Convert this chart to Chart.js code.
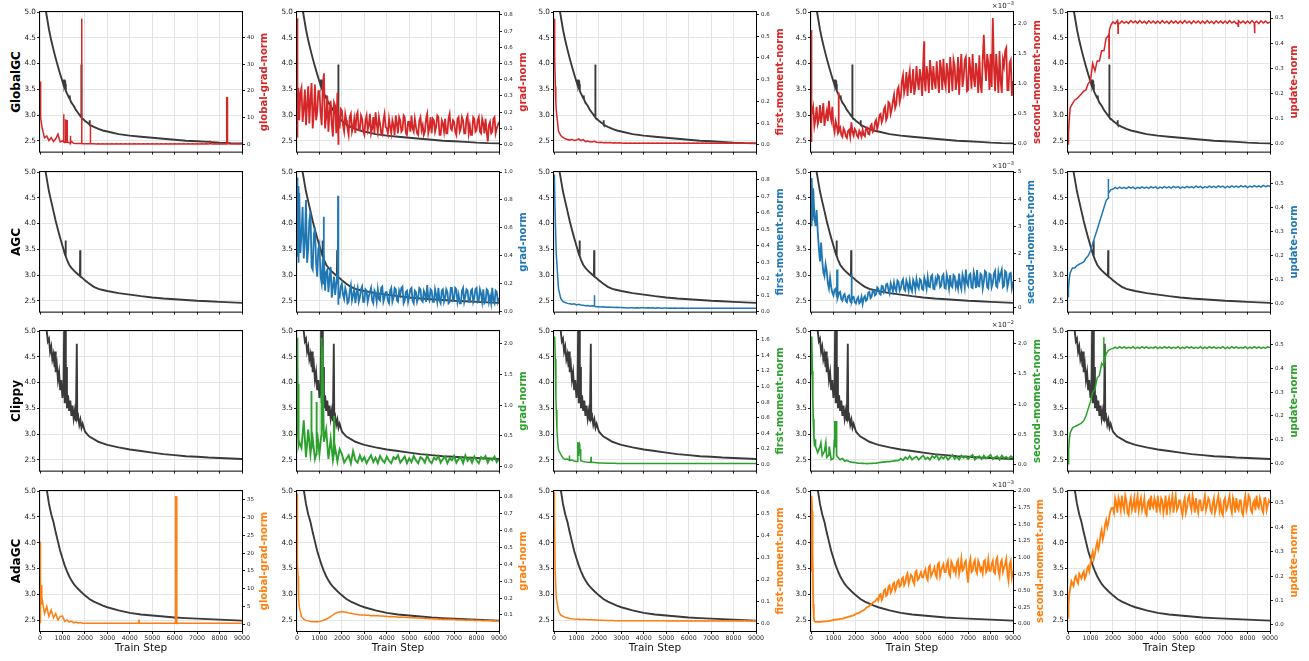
<!DOCTYPE html>
<html>
<head>
<meta charset="utf-8">
<script src="https://cdn.jsdelivr.net/npm/chart.js@4.4.0/dist/chart.umd.min.js"></script>
<style>
  body { margin: 0; background: #fff; width: 1309px; height: 661px; position: relative; overflow: hidden;
         font-family: "DejaVu Sans", sans-serif; }
  canvas { position: absolute; }
  .rot { position: absolute; width: 240px; height: 16px; line-height: 16px; text-align: center;
         white-space: nowrap; transform: rotate(-90deg); font-weight: bold; }
  .expo { position: absolute; font-size: 7px; color: #222; text-align: right; width: 40px; }
  .expo sup { font-size: 5px; }
</style>
</head>
<body>
<script>
// ---- data ----
const STEPS = [0,100,200,300,400,500,600,700,800,900,
  1000,1100,1200,1300,1400,1500,1600,1700,1800,1900,
  2000,2100,2200,2300,2400,2500,2600,2700,2800,2900,
  3000,3100,3200,3300,3400,3500,3600,3700,3800,3900,
  4000,4100,4200,4300,4400,4500,4600,4700,4800,4900,
  5000,5100,5200,5300,5400,5500,5600,5700,5800,5900,
  6000,6100,6200,6300,6400,6500,6600,6700,6800,6900,
  7000,7100,7200,7300,7400,7500,7600,7700,7800,7900,
  8000,8100,8200,8300,8400,8500,8600,8700,8800,8900,
  9000];
// half-way steps (50, 150, ... 8950) used by the noisiest curves
const MID_OFFSET = 50;
const X_TICKS = [0,1000,2000,3000,4000,5000,6000,7000,8000,9000];
const ROWS = ['GlobalGC', 'AGC', 'Clippy', 'AdaGC'];
const METRICS = ['global-grad-norm', 'grad-norm', 'first-moment-norm', 'second-moment-norm', 'update-norm'];

// training loss, one curve per method ([step, loss])
const LOSS_GLOBALGC = [[0,7.8],[50,6.6],[100,6.0],[150,5.6],[200,5.3],[270,5.0],[400,4.66],[500,4.45],[600,4.27],[700,4.1],[800,3.94],[900,3.79],[1000,3.65],[1050,3.58],[1070,3.69],[1090,3.55],[1130,3.6],[1150,3.47],[1200,3.42],[1300,3.33],[1320,3.38],[1340,3.3],[1400,3.24],[1500,3.18],[1600,3.1],[1700,3.04],[1800,2.98],[1830,2.96],[1840,3.98],[1850,2.95],[1900,2.93],[2000,2.89],[2200,2.82],[2210,2.9],[2220,2.81],[2400,2.77],[2600,2.73],[2800,2.7],[3000,2.68],[3500,2.63],[4000,2.6],[4500,2.58],[5000,2.56],[5500,2.54],[6000,2.52],[6500,2.5],[7000,2.49],[7500,2.48],[8000,2.465],[8500,2.455],[9000,2.45]];
const LOSS_AGC = [[0,7.8],[100,6.0],[150,5.6],[200,5.25],[250,5.0],[400,4.62],[500,4.43],[600,4.24],[700,4.05],[800,3.88],[900,3.72],[1000,3.57],[1100,3.42],[1130,3.38],[1140,3.67],[1150,3.37],[1200,3.3],[1300,3.2],[1400,3.14],[1500,3.09],[1600,3.05],[1700,3.01],[1780,2.98],[1790,3.48],[1800,2.97],[1900,2.94],[2000,2.9],[2200,2.83],[2400,2.77],[2600,2.73],[2800,2.71],[3000,2.69],[3500,2.65],[4000,2.62],[4500,2.59],[5000,2.565],[5500,2.545],[6000,2.53],[6500,2.515],[7000,2.5],[7500,2.49],[8000,2.48],[8500,2.47],[9000,2.46]];
const LOSS_CLIPPY = [[0,7.8],[100,6.1],[200,5.4],[300,5.0],[350,4.8],[400,4.85],[450,4.6],[500,4.7],[550,4.45],[600,4.55],[650,4.3],[680,4.6],[700,4.2],[750,4.35],[800,4.05],[850,4.2],[900,3.85],[950,4.05],[1000,3.7],[1050,3.95],[1080,5.2],[1100,3.6],[1130,5.3],[1150,3.6],[1180,4.3],[1200,3.5],[1250,3.75],[1300,3.45],[1350,3.65],[1400,3.35],[1450,3.55],[1500,3.3],[1550,3.45],[1600,3.25],[1640,4.75],[1660,3.3],[1700,3.35],[1750,3.18],[1800,3.28],[1850,3.12],[1900,3.2],[2000,3.05],[2100,3.0],[2200,2.95],[2400,2.9],[2600,2.85],[2800,2.82],[3000,2.79],[3500,2.74],[4000,2.7],[4500,2.67],[5000,2.64],[5500,2.61],[6000,2.59],[6500,2.57],[7000,2.56],[7500,2.545],[8000,2.535],[8500,2.525],[9000,2.515]];
const LOSS_ADAGC = [[0,7.8],[100,6.2],[200,5.45],[310,5.0],[400,4.75],[500,4.55],[600,4.4],[700,4.2],[800,4.02],[900,3.84],[1000,3.7],[1100,3.56],[1200,3.45],[1300,3.35],[1400,3.27],[1500,3.2],[1600,3.15],[1800,3.06],[2000,2.98],[2200,2.91],[2400,2.86],[2600,2.82],[2800,2.78],[3000,2.75],[3500,2.69],[4000,2.64],[4500,2.61],[5000,2.59],[5500,2.57],[6000,2.55],[6500,2.54],[7000,2.53],[7500,2.52],[8000,2.51],[8500,2.5],[9000,2.49]];

// GlobalGC (values on STEPS, plus extra [step, value] points for spikes)
const GGN_GLOBALGC = [23.5,6,2.5,3.2,1.5,2.6,1.2,2.2,3.9,1.0,
  1.4,0.8,1.6,0.7,1.2,0.5,0.45,0.4,0.45,0.35,
  0.35,0.3,0.32,0.3,0.3,0.28,0.3,0.28,0.3,0.28,
  0.3,0.28,0.3,0.28,0.3,0.28,0.3,0.28,0.3,0.28,
  0.3,0.28,0.3,0.28,0.3,0.28,0.3,0.28,0.3,0.28,
  0.3,0.28,0.3,0.28,0.3,0.28,0.3,0.28,0.3,0.28,
  0.3,0.28,0.3,0.28,0.3,0.28,0.3,0.28,0.3,0.28,
  0.3,0.28,0.3,0.28,0.3,0.28,0.3,0.28,0.3,0.28,
  0.3,0.28,0.3,0.28,0.3,0.28,0.3,0.28,0.3,0.28,
  0.3];
const GGN_GLOBALGC_X = [[15,16],[40,10],[70,7.5],[1045,1],[1055,11.3],[1065,1.2],[1125,0.9],[1135,9.5],[1145,1],[1195,0.9],[1205,9.2],[1215,1],[1345,0.7],[1355,3.3],[1365,0.6],[1850,0.4],[1857,47],[1864,0.4],[2238,0.3],[2245,7],[2252,0.3],[7550,0.3],[7560,1.5],[7570,0.3],[8315,0.3],[8320,17.5],[8350,17.5],[8355,0.3]];
const GN_GLOBALGC = [0.05,0.15,0.35,0.22,0.12,0.36,0.28,0.1,0.37,0.2,
  0.33,0.12,0.44,0.17,0.08,0.27,0.05,0.24,0.32,0.1,
  0.21,0.08,0.15,0.06,0.19,0.11,0.07,0.2,0.09,0.16,
  0.06,0.18,0.12,0.07,0.17,0.2,0.08,0.13,0.06,0.19,
  0.1,0.16,0.07,0.12,0.18,0.07,0.15,0.09,0.17,0.06,
  0.14,0.18,0.08,0.11,0.06,0.17,0.12,0.08,0.19,0.1,
  0.07,0.15,0.11,0.17,0.06,0.13,0.16,0.07,0.19,0.09,
  0.14,0.06,0.17,0.1,0.15,0.07,0.18,0.12,0.06,0.16,
  0.09,0.17,0.07,0.13,0.16,0.02,0.14,0.08,0.17,0.1,
  0.14];
const GN_GLOBALGC_MID = [0.3,0.32,0.14,0.34,0.25,0.13,0.38,0.2,0.15,0.33,
  0.2,0.36,0.1,0.3,0.2,0.12,0.26,0.07,0.18,0.22,
  0.12,0.19,0.1,0.17,0.08,0.16,0.18,0.09,0.18,0.08,
  0.15,0.09,0.19,0.1,0.07,0.13,0.17,0.07,0.15,0.11,
  0.07,0.11,0.15,0.06,0.13,0.17,0.08,0.18,0.07,0.14,
  0.08,0.1,0.16,0.07,0.15,0.09,0.06,0.16,0.07,0.17,
  0.16,0.08,0.18,0.06,0.15,0.08,0.07,0.16,0.1,0.15,
  0.08,0.16,0.08,0.17,0.07,0.16,0.07,0.06,0.17,0.08,
  0.15,0.08,0.16,0.07,0.08,0.12,0.07,0.16,0.07,0.12];
const GN_GLOBALGC_X = [[10,0.78],[30,0.28],[60,0.35],[1845,0.005]];
const FM_GLOBALGC = [0.58,0.16,0.063,0.043,0.034,0.028,0.025,0.022,0.026,0.02,
  0.022,0.028,0.02,0.024,0.015,0.018,0.014,0.013,0.016,0.012,
  0.011,0.012,0.01,0.011,0.01,0.011,0.009,0.01,0.009,0.01,
  0.009,0.008,0.009,0.008,0.009,0.008,0.009,0.008,0.009,0.008,
  0.009,0.008,0.009,0.008,0.009,0.008,0.009,0.008,0.009,0.008,
  0.009,0.008,0.009,0.008,0.009,0.008,0.009,0.008,0.009,0.008,
  0.009,0.008,0.009,0.008,0.009,0.008,0.009,0.008,0.009,0.008,
  0.009,0.008,0.009,0.008,0.009,0.008,0.009,0.008,0.009,0.008,
  0.009,0.008,0.009,0.008,0.009,0.008,0.009,0.008,0.009,0.008,
  0.008];
const FM_GLOBALGC_X = [[20,0.56],[40,0.4],[60,0.27],[80,0.2]];
const SM_GLOBALGC = [0.05,0.6,0.42,0.33,0.65,0.5,0.3,0.55,0.72,0.4,
  0.3,0.38,0.18,0.28,0.12,0.22,0.1,0.24,0.36,0.14,
  0.22,0.11,0.18,0.24,0.13,0.27,0.16,0.33,0.22,0.4,
  0.33,0.5,0.42,0.62,0.45,0.68,0.58,0.82,0.66,0.95,
  0.78,1.15,0.95,0.8,1.22,1.0,0.82,1.3,0.9,1.1,
  1.35,0.88,1.15,1.4,0.9,1.05,1.38,0.85,1.25,1.42,
  0.95,1.18,1.45,0.88,1.3,1.05,0.82,1.5,1.1,1.45,
  0.9,1.25,1.5,0.95,1.2,1.48,0.85,1.82,1.05,1.35,
  1.5,2.1,0.88,1.2,1.55,0.85,1.3,1.6,0.9,1.4,
  1.05];
const SM_GLOBALGC_MID = [0.55,0.3,0.62,0.4,0.35,0.68,0.45,0.38,0.5,0.62,
  0.2,0.3,0.25,0.15,0.26,0.13,0.22,0.12,0.2,0.25,
  0.14,0.22,0.12,0.15,0.26,0.17,0.3,0.2,0.36,0.25,
  0.48,0.36,0.58,0.4,0.7,0.5,0.72,0.6,0.9,0.7,
  1.05,0.85,1.2,1.1,0.85,1.25,0.95,1.05,1.25,0.8,
  1.1,1.3,0.85,1.2,1.3,0.92,1.1,1.4,0.9,1.05,
  1.35,0.85,1.2,1.4,0.9,1.45,1.25,0.95,1.4,0.88,
  1.45,0.92,1.1,1.35,0.85,1.0,1.4,1.3,1.5,0.9,
  0.95,1.3,1.5,0.85,1.05,1.4,1.55,0.9,1.35,0.8];
const SM_GLOBALGC_X = [[10,1.9],[30,0.6],[60,0.5],[1220,0.2],[1230,0.86],[1240,0.2],[5040,1.71]];
const UN_GLOBALGC = [0.0,0.145,0.16,0.175,0.18,0.19,0.2,0.21,0.215,0.24,
  0.25,0.32,0.29,0.33,0.33,0.37,0.37,0.42,0.43,0.47,
  0.485,0.478,0.49,0.478,0.488,0.48,0.486,0.479,0.49,0.481,
  0.488,0.479,0.49,0.48,0.487,0.478,0.489,0.48,0.488,0.479,
  0.488,0.479,0.49,0.48,0.487,0.478,0.489,0.48,0.488,0.479,
  0.488,0.479,0.49,0.48,0.487,0.478,0.489,0.48,0.488,0.479,
  0.488,0.479,0.49,0.48,0.487,0.478,0.489,0.48,0.488,0.479,
  0.488,0.479,0.49,0.48,0.487,0.478,0.489,0.48,0.488,0.479,
  0.488,0.479,0.49,0.48,0.487,0.478,0.489,0.48,0.488,0.479,
  0.485];
const UN_GLOBALGC_X = [[20,0.04],[50,0.09],[1820,0.44],[1830,0.34],[1840,0.45],[2220,0.48],[2230,0.44],[2240,0.48],[7570,0.48],[7580,0.467],[7590,0.48],[8310,0.48],[8320,0.44],[8330,0.48]];

// AGC
const GN_AGC = [0.4,0.85,0.55,0.38,0.8,0.45,0.72,0.3,0.6,0.25,
  0.48,0.2,0.42,0.28,0.14,0.32,0.18,0.12,0.28,0.1,
  0.2,0.09,0.14,0.07,0.19,0.12,0.06,0.17,0.1,0.18,
  0.07,0.15,0.11,0.17,0.06,0.13,0.16,0.08,0.18,0.1,
  0.14,0.06,0.17,0.1,0.16,0.07,0.12,0.18,0.08,0.15,
  0.11,0.17,0.06,0.14,0.1,0.16,0.07,0.13,0.19,0.08,
  0.15,0.07,0.12,0.17,0.06,0.16,0.1,0.14,0.07,0.17,
  0.09,0.16,0.12,0.06,0.17,0.11,0.15,0.07,0.16,0.1,
  0.17,0.08,0.13,0.16,0.07,0.15,0.11,0.17,0.06,0.14,
  0.1];
const GN_AGC_MID = [0.6,0.42,0.75,0.5,0.35,0.65,0.32,0.55,0.35,0.45,
  0.25,0.38,0.15,0.3,0.24,0.1,0.25,0.2,0.1,0.18,
  0.12,0.17,0.06,0.15,0.08,0.16,0.13,0.07,0.16,0.07,
  0.16,0.07,0.14,0.08,0.15,0.07,0.09,0.17,0.07,0.14,
  0.08,0.15,0.07,0.17,0.08,0.15,0.17,0.06,0.14,0.07,
  0.16,0.08,0.15,0.07,0.17,0.08,0.15,0.07,0.1,0.16,
  0.07,0.16,0.07,0.08,0.15,0.07,0.16,0.06,0.17,0.08,
  0.17,0.07,0.06,0.15,0.07,0.16,0.07,0.15,0.07,0.16,
  0.07,0.16,0.07,0.06,0.16,0.07,0.06,0.08,0.15,0.07];
const GN_AGC_X = [[10,0.96],[30,0.45],[60,0.9],[80,0.35],[1185,0.2],[1190,0.68],[1195,0.2],[1820,0.2],[1828,0.83],[1836,0.05]];
const FM_AGC = [0.83,0.35,0.14,0.08,0.06,0.055,0.05,0.048,0.045,0.047,
  0.04,0.045,0.04,0.038,0.035,0.037,0.033,0.035,0.1,0.03,
  0.03,0.028,0.03,0.027,0.028,0.026,0.027,0.025,0.026,0.025,
  0.025,0.023,0.024,0.022,0.024,0.023,0.022,0.024,0.022,0.023,
  0.024,0.022,0.023,0.022,0.023,0.021,0.023,0.022,0.021,0.022,
  0.022,0.021,0.022,0.02,0.022,0.021,0.02,0.022,0.021,0.02,
  0.021,0.02,0.021,0.02,0.021,0.02,0.021,0.02,0.021,0.02,
  0.021,0.02,0.021,0.02,0.021,0.02,0.021,0.02,0.021,0.02,
  0.02,0.021,0.02,0.021,0.02,0.021,0.02,0.021,0.02,0.021,
  0.02];
const FM_AGC_X = [[20,0.8],[50,0.6],[1790,0.034],[1810,0.033]];
const SM_AGC = [3.3,4.4,3.0,2.8,1.7,1.75,1.15,1.35,0.7,0.75,
  0.45,0.7,0.35,0.58,0.25,0.5,0.2,0.45,0.18,0.4,
  0.15,0.38,0.22,0.13,0.42,0.3,0.58,0.4,0.62,0.5,
  0.7,0.48,0.78,0.6,0.88,0.52,0.75,0.92,0.6,0.95,
  0.7,1.04,0.62,0.85,0.98,0.6,0.9,1.05,0.7,1.0,
  0.65,0.95,1.12,0.75,1.2,0.68,0.9,1.15,0.8,1.22,
  0.7,1.0,1.2,0.75,1.15,0.92,1.25,0.68,1.05,1.4,
  0.8,1.25,0.72,1.1,1.38,0.78,1.2,0.95,1.3,0.7,
  1.22,0.9,1.35,0.75,1.05,1.4,0.8,1.3,0.95,1.28,
  0.95];
const SM_AGC_MID = [4.2,3.4,3.6,2.2,2.4,1.3,1.6,0.9,1.1,0.55,
  0.65,0.4,0.55,0.3,0.45,0.25,0.42,0.22,0.38,0.2,
  0.3,0.16,0.4,0.35,0.25,0.55,0.35,0.62,0.45,0.75,
  0.52,0.8,0.55,0.85,0.65,0.9,0.6,0.7,1.0,0.62,
  0.95,0.68,1.0,0.62,0.7,1.02,0.65,0.8,1.05,0.68,
  1.1,0.7,0.78,1.15,0.7,1.05,1.2,0.75,1.15,0.72,
  1.2,0.7,0.8,1.2,0.75,0.7,0.85,1.22,0.75,0.9,
  1.2,0.75,1.3,0.72,0.8,1.25,0.7,1.35,0.75,1.25,
  0.75,1.25,0.8,1.3,1.25,0.75,1.35,0.75,1.25,0.72];
const SM_AGC_X = [[15,3.0],[40,4.78],[70,3.2],[1155,0.5],[1160,1.4],[1165,0.4],[1807,0.3],[1812,1.22],[1817,0.25]];
const UN_AGC = [0.03,0.13,0.15,0.15,0.16,0.165,0.17,0.175,0.19,0.2,
  0.22,0.25,0.28,0.31,0.34,0.37,0.4,0.43,0.47,0.475,
  0.478,0.484,0.48,0.486,0.481,0.485,0.48,0.487,0.482,0.486,
  0.479,0.485,0.481,0.487,0.482,0.486,0.481,0.488,0.483,0.487,
  0.48,0.486,0.482,0.488,0.483,0.487,0.482,0.489,0.484,0.488,
  0.481,0.487,0.483,0.489,0.484,0.488,0.483,0.49,0.485,0.489,
  0.482,0.488,0.484,0.49,0.485,0.489,0.484,0.491,0.486,0.49,
  0.483,0.489,0.485,0.491,0.486,0.49,0.485,0.492,0.487,0.491,
  0.484,0.49,0.486,0.492,0.487,0.491,0.486,0.493,0.488,0.492,
  0.49];
const UN_AGC_X = [[20,0.06],[50,0.1],[1790,0.44],[1795,0.52],[1805,0.46]];

// Clippy
const GN_CLIPPY = [1.0,0.4,0.3,0.75,0.15,0.6,0.2,0.45,0.12,0.55,
  0.2,2.1,0.4,0.6,0.12,0.45,0.1,0.3,0.08,0.28,
  0.2,0.06,0.12,0.18,0.05,0.25,0.1,0.06,0.18,0.09,
  0.15,0.05,0.12,0.18,0.07,0.14,0.05,0.17,0.1,0.06,
  0.16,0.09,0.05,0.15,0.12,0.18,0.06,0.11,0.16,0.05,
  0.13,0.07,0.17,0.1,0.05,0.15,0.12,0.06,0.18,0.09,
  0.05,0.14,0.11,0.17,0.06,0.12,0.16,0.05,0.13,0.1,
  0.17,0.06,0.12,0.15,0.05,0.18,0.09,0.14,0.06,0.16,
  0.1,0.05,0.15,0.12,0.17,0.06,0.13,0.1,0.16,0.07,
  0.12];
const GN_CLIPPY_X = [[10,2.1],[20,0.9],[30,1.9],[45,0.5],[60,1.35],[80,0.35],[630,0.3],[640,1.23],[650,0.3],[860,0.2],[870,1.05],[880,0.2],[1080,0.5],[1090,1.9],[1120,0.6],[1130,1.95],[1640,0.2],[1650,0.82],[1660,0.2]];
const FM_CLIPPY = [1.6,0.7,0.19,0.13,0.085,0.065,0.07,0.055,0.06,0.045,
  0.04,0.26,0.05,0.04,0.035,0.03,0.03,0.03,0.028,0.025,
  0.022,0.02,0.02,0.018,0.018,0.017,0.016,0.016,0.015,0.015,
  0.015,0.014,0.014,0.013,0.014,0.013,0.013,0.014,0.013,0.013,
  0.015,0.014,0.014,0.013,0.014,0.013,0.013,0.014,0.013,0.013,
  0.015,0.014,0.014,0.013,0.014,0.013,0.013,0.014,0.013,0.013,
  0.015,0.014,0.014,0.013,0.014,0.013,0.013,0.014,0.013,0.013,
  0.015,0.014,0.014,0.013,0.014,0.013,0.013,0.014,0.013,0.013,
  0.015,0.014,0.014,0.013,0.014,0.013,0.013,0.014,0.013,0.013,
  0.013];
const FM_CLIPPY_X = [[30,1.64],[60,1.35],[85,0.85],[130,0.45],[160,0.3],[670,0.06],[680,0.115],[690,0.06],[1050,0.04],[1060,0.29],[1080,0.12],[1120,0.27],[1150,0.15],[1170,0.2],[1180,0.05],[1640,0.03],[1650,0.1],[1660,0.03]];
const SM_CLIPPY = [1.5,0.75,0.3,0.2,0.3,0.15,0.22,0.12,0.16,0.08,
  0.1,0.65,0.12,0.08,0.1,0.06,0.07,0.05,0.04,0.035,
  0.03,0.025,0.022,0.02,0.018,0.017,0.018,0.02,0.022,0.025,
  0.03,0.035,0.04,0.045,0.05,0.05,0.055,0.06,0.065,0.07,
  0.1,0.07,0.12,0.09,0.14,0.08,0.11,0.13,0.08,0.12,
  0.15,0.09,0.12,0.08,0.14,0.11,0.16,0.08,0.13,0.1,
  0.14,0.08,0.12,0.16,0.09,0.13,0.08,0.15,0.11,0.14,
  0.09,0.13,0.16,0.08,0.12,0.14,0.09,0.15,0.1,0.13,
  0.16,0.09,0.12,0.14,0.08,0.15,0.11,0.13,0.09,0.14,
  0.11];
const SM_CLIPPY_X = [[30,2.12],[60,1.55],[80,1.1],[130,0.45],[160,0.3],[180,0.42],[440,0.36],[660,0.36],[810,0.3],[1040,0.4],[1060,0.72],[1080,0.3],[1120,0.72],[1140,0.15]];
const UN_CLIPPY = [0.0,0.13,0.15,0.155,0.16,0.165,0.17,0.18,0.2,0.23,
  0.26,0.3,0.31,0.36,0.37,0.42,0.44,0.46,0.475,0.48,
  0.482,0.488,0.483,0.49,0.484,0.489,0.483,0.488,0.484,0.49,
  0.482,0.488,0.483,0.49,0.484,0.489,0.483,0.488,0.484,0.49,
  0.482,0.488,0.483,0.49,0.484,0.489,0.483,0.488,0.484,0.49,
  0.482,0.488,0.483,0.49,0.484,0.489,0.483,0.488,0.484,0.49,
  0.482,0.488,0.483,0.49,0.484,0.489,0.483,0.488,0.484,0.49,
  0.482,0.488,0.483,0.49,0.484,0.489,0.483,0.488,0.484,0.49,
  0.482,0.488,0.483,0.49,0.484,0.489,0.483,0.488,0.484,0.49,
  0.487];
const UN_CLIPPY_X = [[30,0.06],[60,0.1],[1590,0.41],[1595,0.53],[1605,0.42]];

// AdaGC
const GGN_ADAGC = [0.5,7,3,5,2.2,4,1.8,3,1.2,2.2,
  2.3,0.8,1.2,0.6,0.9,0.4,0.6,0.35,0.5,0.3,
  0.3,0.25,0.3,0.25,0.3,0.25,0.3,0.25,0.3,0.25,
  0.3,0.25,0.3,0.25,0.3,0.25,0.3,0.25,0.3,0.25,
  0.3,0.25,0.3,0.25,0.3,0.25,0.3,0.25,0.3,0.25,
  0.3,0.25,0.3,0.25,0.3,0.25,0.3,0.25,0.3,0.25,
  0.3,0.25,0.3,0.25,0.3,0.25,0.3,0.25,0.3,0.25,
  0.3,0.25,0.3,0.25,0.3,0.25,0.3,0.25,0.3,0.25,
  0.3,0.25,0.3,0.25,0.3,0.25,0.3,0.25,0.3,0.25,
  0.3];
const GGN_ADAGC_X = [[10,23.3],[30,8.7],[60,11],[80,5.5],[4405,0.3],[4413,1.3],[4421,0.3],[6030,0.3],[6040,35.9],[6080,35.9],[6090,0.8]];
const GN_ADAGC = [0.5,0.15,0.09,0.075,0.068,0.065,0.062,0.06,0.06,0.06,
  0.062,0.065,0.07,0.075,0.082,0.09,0.1,0.11,0.115,0.118,
  0.12,0.118,0.116,0.112,0.11,0.107,0.105,0.103,0.1,0.1,
  0.1,0.098,0.099,0.096,0.097,0.095,0.096,0.094,0.094,0.092,
  0.092,0.09,0.091,0.089,0.089,0.087,0.088,0.086,0.086,0.085,
  0.085,0.083,0.084,0.082,0.082,0.08,0.081,0.079,0.079,0.078,
  0.078,0.076,0.077,0.075,0.076,0.074,0.075,0.073,0.074,0.073,
  0.073,0.071,0.072,0.07,0.071,0.069,0.07,0.069,0.07,0.068,
  0.069,0.067,0.068,0.066,0.067,0.066,0.067,0.065,0.066,0.065,
  0.065];
const GN_ADAGC_X = [[10,0.82],[30,0.4],[50,0.33],[70,0.2]];
const FM_ADAGC = [0.6,0.12,0.06,0.04,0.035,0.03,0.028,0.025,0.024,0.022,
  0.021,0.021,0.02,0.02,0.02,0.019,0.019,0.019,0.018,0.018,
  0.017,0.017,0.017,0.016,0.016,0.016,0.016,0.015,0.015,0.015,
  0.015,0.015,0.015,0.015,0.015,0.015,0.015,0.015,0.015,0.015,
  0.015,0.015,0.015,0.015,0.015,0.015,0.015,0.015,0.015,0.015,
  0.014,0.015,0.014,0.015,0.014,0.015,0.014,0.015,0.014,0.015,
  0.014,0.015,0.014,0.015,0.014,0.015,0.014,0.015,0.014,0.015,
  0.014,0.015,0.014,0.015,0.014,0.015,0.014,0.015,0.014,0.015,
  0.014,0.015,0.014,0.015,0.014,0.015,0.014,0.015,0.014,0.015,
  0.014];
const FM_ADAGC_X = [[20,0.5],[50,0.25]];
const SM_ADAGC = [0.8,0.3,0.03,0.03,0.032,0.035,0.038,0.04,0.045,0.05,
  0.06,0.065,0.07,0.075,0.08,0.09,0.1,0.11,0.12,0.13,
  0.15,0.16,0.18,0.2,0.22,0.25,0.27,0.3,0.33,0.36,
  0.35,0.45,0.4,0.52,0.44,0.58,0.5,0.62,0.55,0.66,
  0.58,0.7,0.62,0.76,0.66,0.72,0.6,0.8,0.68,0.78,
  0.7,0.82,0.66,0.88,0.76,0.85,0.7,0.92,0.8,0.9,
  0.78,0.95,0.72,0.9,0.84,0.92,0.75,0.98,0.82,0.95,
  0.62,0.98,0.8,0.96,0.76,0.9,0.84,0.94,0.78,0.97,
  0.8,0.95,0.76,1.0,0.72,0.96,0.84,0.98,0.65,0.95,
  0.8];
const SM_ADAGC_MID = [1.7,0.04,0.03,0.031,0.033,0.036,0.039,0.042,0.048,0.055,
  0.062,0.068,0.072,0.078,0.085,0.095,0.105,0.115,0.125,0.14,
  0.16,0.17,0.19,0.21,0.24,0.26,0.29,0.32,0.34,0.38,
  0.44,0.36,0.5,0.42,0.56,0.47,0.6,0.5,0.64,0.56,
  0.68,0.58,0.72,0.6,0.74,0.64,0.78,0.66,0.74,0.7,
  0.78,0.7,0.86,0.72,0.8,0.74,0.9,0.72,0.86,0.78,
  0.9,0.76,0.94,0.8,0.76,0.96,0.84,0.8,0.92,0.76,
  0.9,0.78,0.92,0.8,0.95,0.8,0.76,0.96,0.82,0.8,
  0.9,0.78,0.96,0.8,0.92,0.78,0.9,0.76,0.9,0.7];
const SM_ADAGC_X = [[15,1.2],[30,1.93],[60,1.5],[80,1.1],[125,0.1]];
const UN_ADAGC = [0.03,0.15,0.17,0.19,0.18,0.21,0.19,0.22,0.2,0.24,
  0.25,0.3,0.29,0.34,0.33,0.39,0.37,0.43,0.42,0.47,
  0.48,0.52,0.46,0.5,0.53,0.47,0.51,0.45,0.52,0.49,
  0.46,0.53,0.5,0.47,0.52,0.45,0.51,0.53,0.48,0.5,
  0.53,0.47,0.51,0.49,0.45,0.52,0.5,0.46,0.53,0.48,
  0.51,0.45,0.52,0.48,0.53,0.47,0.5,0.52,0.46,0.51,
  0.47,0.53,0.49,0.51,0.46,0.52,0.48,0.53,0.5,0.45,
  0.52,0.48,0.53,0.46,0.5,0.52,0.47,0.51,0.45,0.53,
  0.49,0.52,0.46,0.51,0.53,0.48,0.5,0.46,0.52,0.49,
  0.5];
const UN_ADAGC_MID = [0.12,0.18,0.16,0.2,0.17,0.2,0.21,0.19,0.23,0.22,
  0.28,0.27,0.32,0.31,0.37,0.35,0.41,0.4,0.45,0.48,
  0.46,0.5,0.52,0.47,0.49,0.53,0.46,0.5,0.47,0.52,
  0.5,0.47,0.52,0.49,0.46,0.5,0.47,0.49,0.52,0.46,
  0.49,0.52,0.46,0.53,0.5,0.47,0.53,0.5,0.47,0.51,
  0.47,0.5,0.46,0.52,0.49,0.53,0.46,0.48,0.51,0.47,
  0.5,0.47,0.52,0.47,0.5,0.46,0.51,0.47,0.46,0.51,
  0.47,0.51,0.48,0.52,0.46,0.48,0.51,0.46,0.5,0.47,
  0.53,0.47,0.5,0.47,0.49,0.52,0.47,0.52,0.47,0.51];
const UN_ADAGC_X = [[20,0.08]];

// ---- layout / styling ----
const COLORS = ['#d62728', '#1f77b4', '#2ca02c', '#ff7f0e'];
const LOSS = [LOSS_GLOBALGC, LOSS_AGC, LOSS_CLIPPY, LOSS_ADAGC];
const SERIES = [
  [[GGN_GLOBALGC, GGN_GLOBALGC_X], [GN_GLOBALGC, GN_GLOBALGC_X, GN_GLOBALGC_MID], [FM_GLOBALGC, FM_GLOBALGC_X], [SM_GLOBALGC, SM_GLOBALGC_X, SM_GLOBALGC_MID], [UN_GLOBALGC, UN_GLOBALGC_X]],
  [null, [GN_AGC, GN_AGC_X, GN_AGC_MID], [FM_AGC, FM_AGC_X], [SM_AGC, SM_AGC_X, SM_AGC_MID], [UN_AGC, UN_AGC_X]],
  [null, [GN_CLIPPY, GN_CLIPPY_X], [FM_CLIPPY, FM_CLIPPY_X], [SM_CLIPPY, SM_CLIPPY_X], [UN_CLIPPY, UN_CLIPPY_X]],
  [[GGN_ADAGC, GGN_ADAGC_X], [GN_ADAGC, GN_ADAGC_X], [FM_ADAGC, FM_ADAGC_X], [SM_ADAGC, SM_ADAGC_X, SM_ADAGC_MID], [UN_ADAGC, UN_ADAGC_X, UN_ADAGC_MID]]
];
// line width of the metric curve per panel
const WIDTHS = [
  [1.5, 1.8, 1.5, 1.8, 1.5],
  [1.5, 1.8, 1.5, 1.8, 1.5],
  [1.5, 1.9, 1.5, 1.7, 1.5],
  [1.5, 1.5, 1.5, 1.8, 1.8]
];
// right axis: [min, max, step, decimals, exponent]
const RIGHT = [
  [[-2.6, 49.4, 10, 0], [-0.043, 0.818, 0.1, 1], [-0.031, 0.611, 0.1, 1], [-0.127, 2.2, 0.5, 1, '\u22123'], [-0.03, 0.524, 0.1, 1]],
  [null, [0, 1.0, 0.2, 1], [0, 0.847, 0.1, 1], [-0.15, 5.0, 1, 0, '\u22123'], [-0.032, 0.549, 0.1, 1]],
  [null, [-0.07, 2.21, 0.5, 1], [-0.077, 1.71, 0.2, 1], [-0.1, 2.21, 0.5, 1, '\u22122'], [-0.029, 0.556, 0.1, 1]],
  [[-1.9, 37.5, 5, 0], [0.005, 0.836, 0.1, 1], [-0.032, 0.605, 0.1, 1], [-0.106, 2.0, 0.25, 2, '\u22123'], [-0.025, 0.549, 0.1, 1]]
];
const COL_X = [40, 297, 554, 811, 1068];
const ROW_Y = [12, 172, 331, 491];
const PW = 202, PH = 140, L = 36, R = 46, T = 6;
const FONT = "'DejaVu Sans', sans-serif";
const RFONT = 5.5;

Chart.defaults.font.family = FONT;
Chart.defaults.color = '#222';

function series(vals, extra, mid) {
  if (vals.length !== STEPS.length) console.warn('length', vals.length);
  const pts = STEPS.map((s, i) => ({ x: s, y: vals[i] }));
  if (mid) mid.forEach((v, i) => pts.push({ x: STEPS[i] + MID_OFFSET, y: v }));
  extra.forEach(([x, y]) => pts.push({ x, y }));
  return pts.sort((a, b) => a.x - b.x);
}

const frame = {
  id: 'frame',
  afterDraw(chart) {
    const a = chart.chartArea, c = chart.ctx;
    c.save();
    c.strokeStyle = '#000';
    c.lineWidth = 1;
    c.strokeRect(a.left - 0.5, a.top - 0.5, a.right - a.left + 1, a.bottom - a.top + 1);
    c.restore();
  }
};

const meas = document.createElement('canvas').getContext('2d');
meas.font = RFONT + 'px ' + FONT;

function addRot(text, cx, cy, size, color) {
  const d = document.createElement('div');
  d.className = 'rot';
  d.textContent = text;
  d.style.left = (cx - 120) + 'px';
  d.style.top = (cy - 8) + 'px';
  d.style.fontSize = size + 'px';
  d.style.color = color;
  document.body.appendChild(d);
}

for (let r = 0; r < 4; r++) {
  addRot(ROWS[r], 16, ROW_Y[r] + PH / 2, 12, '#000');
  for (let c = 0; c < 5; c++) {
    const B = r === 3 ? 24 : 5;
    const cv = document.createElement('canvas');
    cv.width = L + PW + R;
    cv.height = T + PH + B;
    cv.style.left = (COL_X[c] - L) + 'px';
    cv.style.top = (ROW_Y[r] - T) + 'px';
    document.body.appendChild(cv);

    const ax = RIGHT[r][c];
    const s = SERIES[r][c];
    const datasets = [];
    if (s) {
      datasets.push({ data: series(s[0], s[1], s[2]), yAxisID: 'y1',
        borderColor: COLORS[r], borderWidth: WIDTHS[r][c], borderJoinStyle: 'miter' });
    }
    datasets.push({ data: LOSS[r].map(([x, y]) => ({ x, y })), yAxisID: 'y',
      borderColor: '#3a3a3a', borderWidth: 1.9 });

    new Chart(cv, {
      type: 'line',
      data: { datasets },
      options: {
        responsive: false, animation: false, events: [],
        layout: { padding: { top: T, left: 0, right: 0, bottom: 0 }, autoPadding: false },
        plugins: { legend: { display: false }, tooltip: { enabled: false } },
        elements: { point: { radius: 0 }, line: { tension: 0 } },
        scales: {
          x: {
            type: 'linear', min: 0, max: 9000,
            afterBuildTicks: sc => { sc.ticks = X_TICKS.map(v => ({ value: v })); },
            ticks: { display: r === 3, autoSkip: false, maxRotation: 0, font: { size: 6.3 }, padding: 1,
                     callback: v => String(v) },
            grid: { color: '#e4e4e4', tickColor: '#222', tickLength: 3 },
            border: { display: false },
            title: { display: r === 3, text: 'Train Step', font: { size: 10.5 }, color: '#111', padding: 0 },
            afterFit: sc => { sc.height = B; }
          },
          y: {
            position: 'left', min: 2.29, max: 5.0,
            ticks: { stepSize: 0.5, includeBounds: false, font: { size: 7.3 }, padding: 1,
                     callback: v => v.toFixed(1) },
            grid: { color: '#e4e4e4', tickColor: '#222', tickLength: 3 },
            border: { display: false },
            afterFit: sc => { sc.width = L; }
          },
          y1: {
            position: 'right',
            min: ax ? ax[0] : 0, max: ax ? ax[1] : 1,
            ticks: { display: !!ax, stepSize: ax ? ax[2] : 1, includeBounds: false, font: { size: RFONT }, padding: 2,
                     callback: v => v.toFixed(ax ? ax[3] : 0) },
            grid: { drawOnChartArea: false, drawTicks: !!ax, tickColor: '#222', tickLength: 3 },
            border: { display: false },
            afterFit: sc => { sc.width = R; }
          }
        }
      },
      plugins: [frame]
    });

    if (ax) {
      let w = 0;
      for (let k = Math.ceil(ax[0] / ax[2] - 1e-9); k * ax[2] <= ax[1] + 1e-9; k++) {
        w = Math.max(w, meas.measureText((k * ax[2]).toFixed(ax[3])).width);
      }
      const right = COL_X[c] + PW;
      addRot(METRICS[c], right + 3 + 2 + w + 4 + 6, ROW_Y[r] + PH / 2, 10, COLORS[r]);
      if (ax[4]) {
        const e = document.createElement('div');
        e.className = 'expo';
        e.innerHTML = '\u00d710<sup>' + ax[4] + '</sup>';
        e.style.left = (right + 1 - 40) + 'px';
        e.style.top = (ROW_Y[r] - 12) + 'px';
        document.body.appendChild(e);
      }
    }
  }
}
</script>
</body>
</html>
